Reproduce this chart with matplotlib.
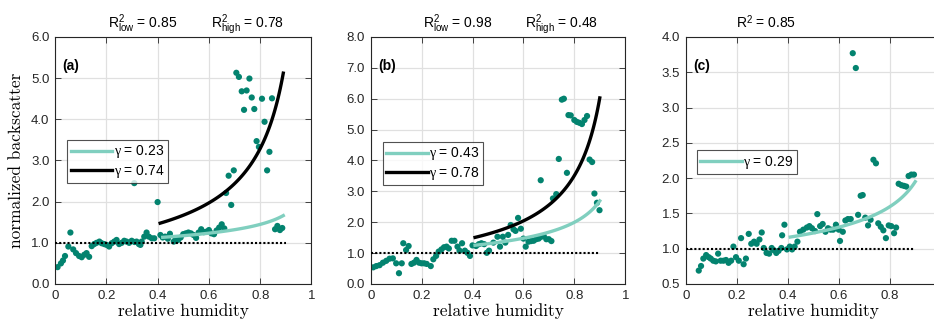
import matplotlib
matplotlib.use('Agg')
import matplotlib.pyplot as plt
import numpy as np

plt.rcParams['font.family'] = ['Liberation Sans', 'DejaVu Sans']
plt.rcParams['mathtext.fontset'] = 'custom'
plt.rcParams['mathtext.rm'] = 'Liberation Sans'
plt.rcParams['mathtext.it'] = 'Liberation Serif'

# panel (a) scatter
rh_a = [0.010, 0.023, 0.031, 0.039, 0.052, 0.060, 0.071, 0.082, 0.094, 0.104,
        0.114, 0.123, 0.133, 0.143, 0.153, 0.162, 0.173, 0.182, 0.192, 0.201,
        0.211, 0.221, 0.231, 0.240, 0.250, 0.260, 0.270, 0.279, 0.289, 0.299,
        0.309, 0.310, 0.318, 0.327, 0.333, 0.338, 0.348, 0.357, 0.366, 0.377,
        0.387, 0.400, 0.411, 0.420, 0.429, 0.440, 0.448, 0.463, 0.470, 0.480,
        0.490, 0.500, 0.510, 0.520, 0.530, 0.540, 0.550, 0.560, 0.570, 0.580,
        0.590, 0.600, 0.610, 0.620, 0.630, 0.640, 0.650, 0.660, 0.667, 0.677,
        0.687, 0.697, 0.707, 0.717, 0.728, 0.737, 0.747, 0.758, 0.767, 0.777,
        0.786, 0.795, 0.807, 0.817, 0.827, 0.836, 0.846, 0.858, 0.867, 0.877,
        0.886]
val_a = [0.41, 0.50, 0.57, 0.68, 0.91, 1.25, 0.84, 0.75, 0.68, 0.65,
         0.71, 0.75, 0.66, 0.92, 0.97, 1.00, 1.03, 0.99, 0.97, 0.95,
         0.91, 0.99, 1.03, 1.07, 0.97, 1.00, 1.05, 1.03, 1.00, 1.05,
         2.45, 1.02, 1.03, 0.97, 0.95, 1.03, 1.15, 1.25, 1.15, 1.11,
         1.11, 1.99, 1.19, 1.13, 1.15, 1.10, 1.22, 1.03, 1.08, 1.07,
         1.13, 1.21, 1.23, 1.25, 1.23, 1.19, 1.12, 1.25, 1.33, 1.26,
         1.27, 1.31, 1.23, 1.21, 1.30, 1.37, 1.45, 1.35, 2.21, 2.63,
         1.92, 2.76, 5.13, 5.03, 4.68, 4.23, 4.70, 4.99, 4.53, 4.25,
         3.47, 3.33, 4.50, 3.94, 2.76, 3.21, 4.51, 1.33, 1.41, 1.31,
         1.36]

# panel (b) scatter
rh_b = [0.010, 0.022, 0.035, 0.048, 0.061, 0.074, 0.087, 0.100, 0.111, 0.122,
        0.128, 0.139, 0.149, 0.160, 0.170, 0.180, 0.190, 0.200, 0.210, 0.220,
        0.236, 0.246, 0.257, 0.267, 0.278, 0.288, 0.298, 0.307, 0.318, 0.329,
        0.341, 0.349, 0.359, 0.370, 0.380, 0.390, 0.400, 0.414, 0.425, 0.435,
        0.446, 0.456, 0.465, 0.482, 0.498, 0.508, 0.519, 0.529, 0.540, 0.550,
        0.561, 0.569, 0.579, 0.590, 0.600, 0.609, 0.620, 0.630, 0.640, 0.650,
        0.660, 0.668, 0.670, 0.680, 0.690, 0.700, 0.710, 0.716, 0.729, 0.739,
        0.751, 0.759, 0.771, 0.777, 0.786, 0.800, 0.810, 0.820, 0.830, 0.840,
        0.850, 0.860, 0.870, 0.879, 0.889, 0.899]
val_b = [0.54, 0.58, 0.61, 0.69, 0.75, 0.82, 0.83, 0.67, 0.35, 0.67,
         1.32, 1.10, 1.23, 0.65, 0.69, 0.78, 0.69, 0.67, 0.67, 0.65,
         0.58, 0.80, 0.91, 1.05, 1.12, 1.19, 1.21, 1.15, 1.40, 1.40,
         1.21, 1.08, 1.32, 1.08, 1.01, 0.91, 1.25, 1.23, 1.29, 1.32,
         1.29, 1.01, 1.08, 1.34, 1.53, 1.21, 1.53, 1.34, 1.59, 1.91,
         1.77, 1.72, 2.14, 1.79, 1.47, 1.21, 1.37, 1.39, 1.40, 1.45,
         1.47, 3.36, 1.53, 1.55, 1.45, 1.45, 1.39, 2.77, 2.91, 4.05,
         5.97, 6.00, 3.60, 5.47, 5.46, 5.31, 5.25, 5.22, 5.18, 5.31,
         5.44, 4.03, 3.95, 2.93, 2.63, 2.39]

# panel (c) scatter
rh_c = [0.051, 0.060, 0.069, 0.080, 0.090, 0.098, 0.108, 0.118, 0.127, 0.137,
        0.148, 0.158, 0.168, 0.178, 0.187, 0.197, 0.208, 0.217, 0.227, 0.236,
        0.247, 0.257, 0.268, 0.278, 0.289, 0.298, 0.306, 0.317, 0.327, 0.337,
        0.345, 0.355, 0.364, 0.375, 0.378, 0.387, 0.397, 0.408, 0.417, 0.427,
        0.438, 0.448, 0.461, 0.475, 0.485, 0.495, 0.507, 0.516, 0.527, 0.537,
        0.548, 0.558, 0.568, 0.578, 0.589, 0.600, 0.605, 0.616, 0.626, 0.636,
        0.647, 0.655, 0.667, 0.676, 0.686, 0.694, 0.704, 0.715, 0.725, 0.736,
        0.746, 0.755, 0.765, 0.775, 0.785, 0.796, 0.806, 0.817, 0.825, 0.835,
        0.846, 0.856, 0.865, 0.874, 0.885, 0.895]
val_c = [0.69, 0.755, 0.86, 0.91, 0.88, 0.86, 0.83, 0.82, 0.93, 0.83,
         0.83, 0.84, 0.80, 0.83, 1.03, 0.88, 0.83, 1.15, 0.78, 0.86,
         1.21, 1.07, 1.10, 1.07, 1.13, 1.23, 1.01, 0.94, 0.93, 1.01,
         0.98, 0.94, 0.97, 1.01, 1.19, 1.34, 0.99, 1.03, 0.99, 1.03,
         1.10, 1.24, 1.27, 1.30, 1.32, 1.29, 1.25, 1.49, 1.32, 1.35,
         1.24, 1.29, 1.27, 1.27, 1.34, 1.27, 1.11, 1.24, 1.40, 1.42,
         1.42, 3.77, 3.56, 1.48, 1.75, 1.76, 1.44, 1.33, 1.41, 2.26,
         2.21, 1.36, 1.31, 1.26, 1.15, 1.33, 1.32, 1.22, 1.30, 1.92,
         1.90, 1.89, 1.88, 2.03, 2.05, 2.05]

# fitted gamma values and fit ranges
gamma_low = [0.23, 0.43, 0.29]
gamma_high = [0.74, 0.78, None]
fit_low_range = [(0.42, 0.89), (0.41, 0.90), (0.41, 0.90)]
fit_high_range = [(0.41, 0.89), (0.41, 0.90), None]
r2_labels = [[r'R$^{2}_{\mathrm{low}}$ = 0.85', r'R$^{2}_{\mathrm{high}}$ = 0.78'],
             [r'R$^{2}_{\mathrm{low}}$ = 0.98', r'R$^{2}_{\mathrm{high}}$ = 0.48'],
             [r'R$^{2}$ = 0.85']]
panel_tags = ['(a)', '(b)', '(c)']

y_ticks = [np.arange(0, 6.01, 1.0), np.arange(0, 8.01, 1.0), np.arange(0.5, 4.01, 0.5)]
x_ticks = [0, 0.2, 0.4, 0.6, 0.8, 1]
x_ticklabels = [['0', '0.2', '0.4', '0.6', '0.8', '1'],
                ['0', '0.2', '0.4', '0.6', '0.8', '1'],
                ['0', '0.2', '0.4', '0.6', '0.8', '']]  # "1" falls off the page in (c)

dot_color = '#03836f'
light_color = '#80cfbf'
text_color = '#262626'

fig = plt.figure(figsize=(9.34, 3.2), dpi=100)
lefts = [0.0589, 0.3969, 0.7342]
widths = [0.2746, 0.2725, 0.2730]
legend_anchor = [(0.047, 0.583), (0.047, 0.575), (0.043, 0.542)]
r2_pos = [[0.34, 0.75], [0.34, 0.75], [0.315]]

rh_all = [rh_a, rh_b, rh_c]
val_all = [val_a, val_b, val_c]

for i in range(3):
    ax = fig.add_axes([lefts[i], 0.1125, widths[i], 0.772])
    ax.grid(True, color='#e0e0e0', linewidth=0.9, zorder=0)
    ax.set_axisbelow(True)

    ax.scatter(rh_all[i], val_all[i], s=20, color=dot_color, edgecolors='none', zorder=2)
    ax.plot([0, 0.9], [1, 1], color='black', linestyle=(0, (1, 1)), linewidth=1.5, zorder=3)

    handles = []
    x0, x1 = fit_low_range[i]
    xs = np.linspace(x0, x1, 120)
    h1, = ax.plot(xs, (1 - xs) ** (-gamma_low[i]), color=light_color, linewidth=2.4,
                  zorder=4, label=r'$\gamma$ = %.2f' % gamma_low[i])
    handles.append(h1)
    if gamma_high[i] is not None:
        x0, x1 = fit_high_range[i]
        xs = np.linspace(x0, x1, 120)
        h2, = ax.plot(xs, (1 - xs) ** (-gamma_high[i]), color='black', linewidth=2.4,
                      zorder=5, label=r'$\gamma$ = %.2f' % gamma_high[i])
        handles.append(h2)

    leg = ax.legend(handles=handles, loc='upper left', bbox_to_anchor=legend_anchor[i],
                    borderaxespad=0, fontsize=10, frameon=True, fancybox=False,
                    handlelength=3.0, handletextpad=0.1, borderpad=0.25,
                    labelspacing=0.15)
    leg.get_frame().set_edgecolor('#262626')
    leg.get_frame().set_linewidth(0.8)

    ax.set_xlim(0, 1)
    ax.set_ylim(y_ticks[i][0], y_ticks[i][-1])
    ax.set_xticks(x_ticks)
    ax.set_xticklabels(x_ticklabels[i])
    ax.set_yticks(y_ticks[i])
    ax.set_yticklabels(['%.1f' % v for v in y_ticks[i]])
    ax.tick_params(direction='in', length=4, width=0.6, top=True, right=True,
                   labelsize=9.5, colors=text_color, pad=4)
    for sp in ax.spines.values():
        sp.set_color(text_color)
        sp.set_linewidth(0.8)

    ax.text(0.03, 0.883, panel_tags[i], transform=ax.transAxes, fontsize=10,
            fontweight='bold', va='center', ha='left', color='black')
    for lab, xp in zip(r2_labels[i], r2_pos[i]):
        ax.text(xp, 1.036, lab, transform=ax.transAxes, ha='center', va='baseline',
                fontsize=10, color='black')

    ax.set_xlabel('relative humidity', fontname='cmr10', fontsize=12.5, labelpad=1)
    if i == 0:
        ax.set_ylabel('normalized backscatter', fontname='cmr10', fontsize=12.5, labelpad=5)

fig.savefig('out.png', dpi=100)
